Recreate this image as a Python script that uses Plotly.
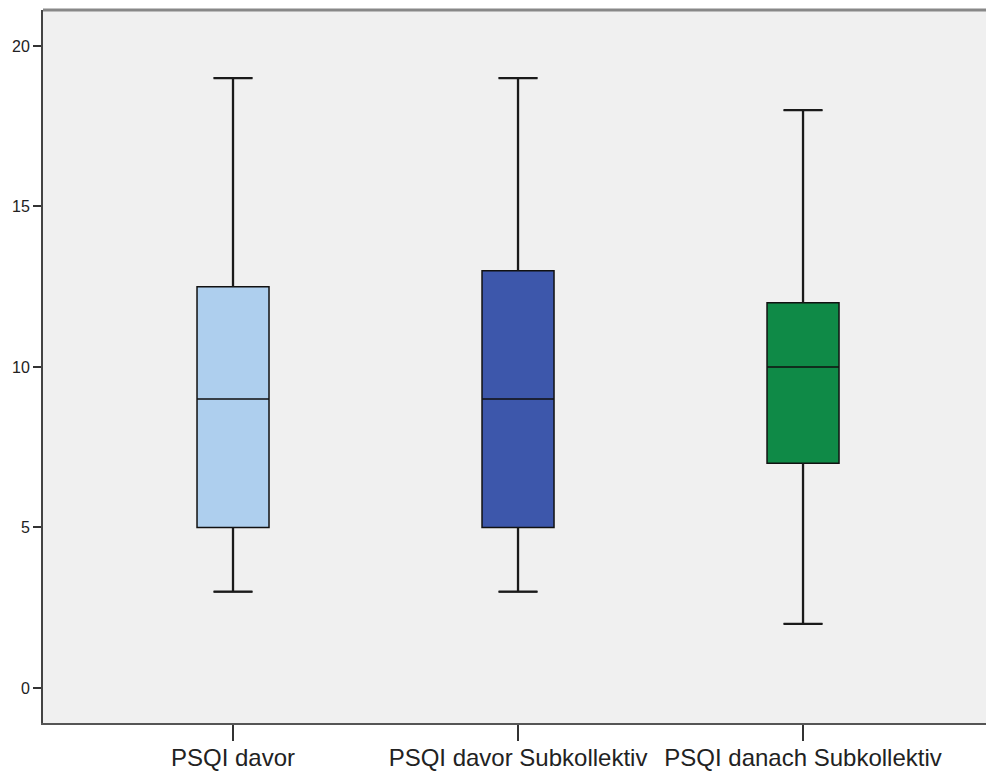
import plotly.graph_objects as go

categories = ["PSQI davor", "PSQI davor Subkollektiv", "PSQI danach Subkollektiv"]
lower = [3, 3, 2]
q1 = [5, 5, 7]
median = [9, 9, 10]
q3 = [12.5, 13, 12]
upper = [19, 19, 18]
colors = ["#AECFEE", "#3D57AB", "#0F8A47"]

box_width = 0.2526
whisker_frac = 0.54

fig = go.Figure()
positions = list(range(len(categories)))
for i, cat in enumerate(categories):
    fig.add_trace(go.Box(
        x=[positions[i]], q1=[q1[i]], median=[median[i]], q3=[q3[i]],
        lowerfence=[lower[i]], upperfence=[upper[i]],
        width=box_width, whiskerwidth=whisker_frac,
        fillcolor=colors[i], line=dict(color="#111111", width=1.5),
        boxpoints=False, showlegend=False, name=cat,
    ))
    half = box_width * whisker_frac / 2
    p = positions[i]
    # whisker stems and caps (thicker, like the reference)
    fig.add_trace(go.Scatter(
        x=[p, p, None, p, p, None, p - half, p + half, None, p - half, p + half],
        y=[q3[i], upper[i], None, q1[i], lower[i], None, upper[i], upper[i], None, lower[i], lower[i]],
        mode="lines", line=dict(color="#1a1a1a", width=2.3),
        showlegend=False, hoverinfo="skip",
    ))

fig.update_layout(
    width=986, height=771,
    margin=dict(l=43, r=0, t=10, b=48),
    plot_bgcolor="#F0F0F0", paper_bgcolor="white",
    font=dict(family="Liberation Sans, Arial, sans-serif", color="#222222"),
    xaxis=dict(
        range=[-0.6667, 2.642], tickvals=positions, ticktext=categories,
        showgrid=False, zeroline=False, showline=True, linecolor="#555555", linewidth=2,
        ticks="outside", ticklen=16, tickwidth=1.5, tickcolor="#333333",
        tickfont=dict(size=24, color="#222222"), ticklabelstandoff=-4,
    ),
    yaxis=dict(
        range=[-1.09, 21.12], tickvals=[0, 5, 10, 15, 20],
        showgrid=False, zeroline=False, showline=True, linecolor="#444444", linewidth=2,
        ticks="outside", ticklen=8, tickwidth=1.5, tickcolor="#333333",
        tickfont=dict(size=16, color="#222222"),
    ),
    shapes=[dict(type="line", xref="paper", yref="paper", x0=0, x1=1, y0=1, y1=1,
                 line=dict(color="#888888", width=3))],
)

# remove the page's default body margin so the figure fills the window exactly
fig.write_html(
    "out.html",
    config={"displayModeBar": False},
    post_script="document.body.style.margin='0';document.body.style.overflow='hidden';",
)
